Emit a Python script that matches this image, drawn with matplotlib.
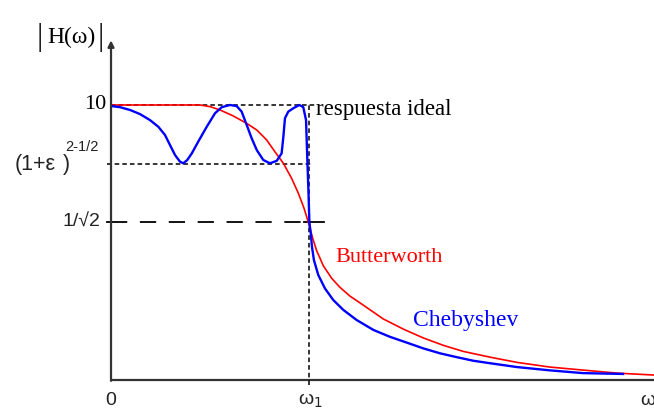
import matplotlib.pyplot as plt

# frequency in units of the cutoff w1, magnitude normalised to the passband level
level_ideal = 1.0
level_ripple = 0.785
level_half = 0.575
w_cut = 1.0

butter_w = [0.0, 0.452, 0.503, 0.553, 0.621, 0.689, 0.740, 0.790, 0.832,
            0.875, 0.917, 0.951, 0.980, 1.002, 1.024, 1.044, 1.078, 1.120,
            1.162, 1.213, 1.281, 1.382, 1.484, 1.585, 1.687, 1.788, 1.924,
            2.061, 2.228, 2.396, 2.569, 2.756]
butter_h = [1.0, 1.0, 0.994, 0.982, 0.960, 0.933, 0.909, 0.873, 0.830,
            0.788, 0.733, 0.679, 0.624, 0.573, 0.515, 0.470, 0.415, 0.370,
            0.337, 0.305, 0.272, 0.222, 0.185, 0.153, 0.126, 0.104, 0.083,
            0.064, 0.047, 0.036, 0.025, 0.018]

cheby_w = [0.004, 0.046, 0.096, 0.147, 0.198, 0.240, 0.274, 0.299, 0.325,
           0.350, 0.367, 0.387, 0.410, 0.443, 0.486, 0.528, 0.562, 0.604,
           0.638, 0.663, 0.689, 0.714, 0.740, 0.773, 0.807, 0.841, 0.866,
           0.875, 0.883, 0.900, 0.925, 0.956, 0.976, 0.990, 0.996, 1.002,
           1.007, 1.014, 1.020, 1.030, 1.052, 1.086, 1.128, 1.179, 1.247,
           1.332, 1.416, 1.501, 1.585, 1.670, 1.755, 1.839, 1.924, 2.061,
           2.228, 2.396, 2.599]
cheby_h = [0.996, 0.992, 0.982, 0.967, 0.945, 0.921, 0.891, 0.855, 0.818,
           0.794, 0.788, 0.800, 0.824, 0.867, 0.921, 0.970, 0.992, 1.0,
           0.996, 0.976, 0.927, 0.879, 0.836, 0.800, 0.788, 0.797, 0.824,
           0.885, 0.952, 0.976, 0.988, 1.0, 0.992, 0.945, 0.812, 0.691,
           0.573, 0.533, 0.485, 0.436, 0.382, 0.333, 0.291, 0.255, 0.218,
           0.182, 0.157, 0.136, 0.115, 0.097, 0.083, 0.070, 0.061, 0.047,
           0.035, 0.025, 0.022]

serif = ['Liberation Serif', 'DejaVu Serif']
sans = ['Liberation Sans', 'DejaVu Sans']

fig = plt.figure(figsize=(6.54, 4.15), dpi=100)
ax = fig.add_axes([0, 0, 1, 1])
ax.set_xlim(-0.5635, 2.7563)
ax.set_ylim(-0.1273, 1.3818)
ax.axis('off')

axis_col = '#333333'
# axes with arrow on the vertical one
ax.plot([0, 2.7563], [0, 0], color=axis_col, lw=1.6, solid_capstyle='butt')
ax.annotate('', xy=(0, 1.235), xytext=(0, -0.003),
            arrowprops=dict(arrowstyle='-|>', color=axis_col, lw=1.6,
                            mutation_scale=9, shrinkA=0, shrinkB=0))

# reference levels
ax.plot([0, 1.04], [level_ideal, level_ideal], color='black', lw=1.1,
        ls=(0, (3, 2)))
ax.plot([-0.02, 1.02], [level_ripple, level_ripple], color='black', lw=1.1,
        ls=(0, (3, 2)))
ax.plot([0, 0.97], [level_half, level_half], color='black', lw=1.3,
        ls=(0, (9, 7)))
ax.plot([0.98, 1.08], [level_half, level_half], color='black', lw=1.3)
ax.plot([-0.02, 0], [level_half, level_half], color='black', lw=1.3)
ax.plot([w_cut + 0.005, w_cut + 0.005], [-0.02, level_ideal], color='black',
        lw=1.1, ls=(0, (3, 2)))

ax.plot(butter_w, butter_h, color='#ff0000', lw=1.2)
ax.plot(cheby_w, cheby_h, color='#0000ff', lw=1.7)

# labels
ax.text(-0.360, 1.247, '|', fontsize=23, family=serif, ha='center',
        va='center', color='#222222')
ax.text(-0.203, 1.247, 'H(ω)', fontsize=17, family=serif, ha='center',
        va='center')
ax.text(-0.051, 1.247, '|', fontsize=23, family=serif, ha='center',
        va='center', color='#222222')
ax.text(-0.025, level_ideal, '10', fontsize=16, family=serif, ha='right',
        va='center')
ax.text(-0.490, 0.782, '(1+ε', fontsize=15.5, family=sans, ha='left',
        va='center', color='#222222')
ax.text(-0.232, 0.848, '2-1/2', fontsize=10.5, family=sans, ha='left',
        va='center', color='#222222')
ax.text(-0.245, 0.782, ')', fontsize=15.5, family=sans, ha='left',
        va='center', color='#222222')
ax.text(-0.055, level_half, '1/√2', fontsize=14, family=sans, ha='right',
        va='center', color='#222222')
ax.text(1.04, 0.985, 'respuesta ideal', fontsize=16.5, family=serif,
        ha='left', va='center')
ax.text(1.137, 0.447, 'Butterworth', fontsize=16, family=serif, ha='left',
        va='center', color='#ff0000')
ax.text(1.533, 0.218, 'Chebyshev', fontsize=17, family=serif, ha='left',
        va='center', color='#0000ff')
ax.text(0, -0.073, '0', fontsize=14, family=sans, ha='center', va='center',
        color='#222222')
ax.text(1.01, -0.075, 'ω$_1$', fontsize=14, family=sans, ha='center',
        va='center', color='#222222')
ax.text(2.685, -0.073, 'ω', fontsize=14, family=sans, ha='left', va='center',
        color='#222222')

fig.savefig('out.png', dpi=100)
